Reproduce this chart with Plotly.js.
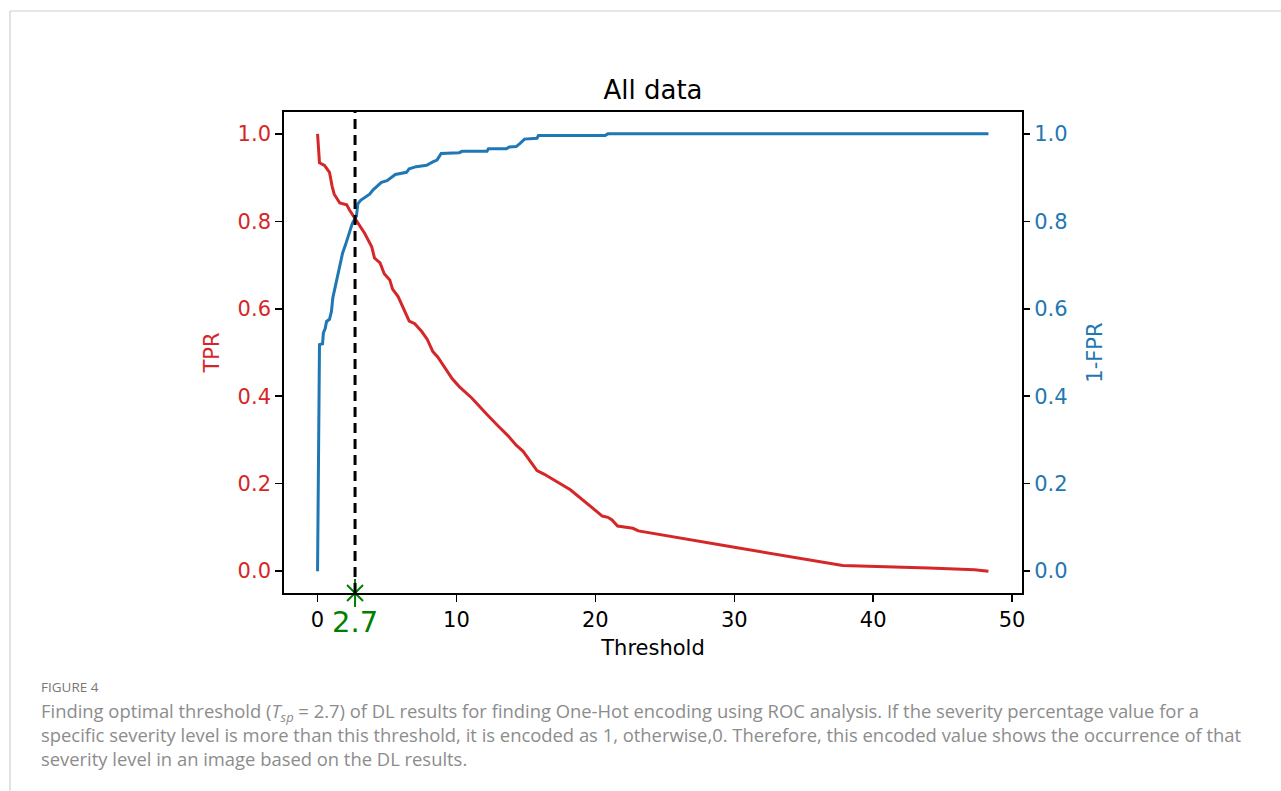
<!DOCTYPE html>
<html>
<head>
<meta charset="utf-8">
<script src="https://cdn.plot.ly/plotly-3.0.1.min.js"></script>
<style>
html,body{margin:0;padding:0;background:#fff;}
#chart{width:1281px;height:791px;}
</style>
</head>
<body>
<div id="chart"></div>
<script>
// ---- data ----
var thresholdTPR = [0, 0.14, 0.5, 0.86, 1.05, 1.2, 1.6, 2.1, 2.3, 2.7, 3.0, 3.4, 3.9, 4.1, 4.5, 4.8, 5.2, 5.4, 5.8, 6.2, 6.6, 7.0, 7.5, 7.9, 8.3, 8.65, 9.2, 9.7, 10.2, 11.1, 12.2, 12.4, 13.0, 13.7, 14.3, 14.8, 15.3, 15.8, 16.3, 18.2, 20.5, 20.9, 21.2, 21.6, 22.7, 23.1, 29.9, 37.8, 44.0, 47.3, 48.3];
var tpr = [1.0, 0.934, 0.928, 0.912, 0.88, 0.862, 0.842, 0.838, 0.826, 0.806, 0.79, 0.772, 0.742, 0.716, 0.705, 0.68, 0.666, 0.645, 0.628, 0.6, 0.572, 0.566, 0.548, 0.53, 0.502, 0.49, 0.465, 0.44, 0.422, 0.396, 0.358, 0.352, 0.332, 0.31, 0.288, 0.274, 0.252, 0.23, 0.222, 0.186, 0.126, 0.123, 0.117, 0.103, 0.098, 0.092, 0.055, 0.013, 0.007, 0.003, 0.0];

var thresholdSpec = [0, 0.14, 0.36, 0.42, 0.55, 0.65, 0.86, 1.0, 1.1, 1.2, 1.36, 1.6, 1.8, 2.0, 2.2, 2.5, 2.8, 2.9, 3.1, 3.4, 3.75, 4.0, 4.25, 4.6, 5.0, 5.3, 5.6, 6.4, 6.6, 7.1, 7.85, 8.3, 8.6, 8.9, 10.2, 10.4, 12.2, 12.3, 13.6, 13.8, 14.3, 14.6, 14.9, 15.8, 15.9, 20.7, 20.9, 48.3];
var specificity = [0.0, 0.518, 0.52, 0.545, 0.555, 0.571, 0.576, 0.594, 0.625, 0.64, 0.667, 0.697, 0.727, 0.745, 0.765, 0.795, 0.812, 0.84, 0.848, 0.855, 0.862, 0.872, 0.88, 0.889, 0.893, 0.9, 0.907, 0.912, 0.92, 0.925, 0.928, 0.936, 0.94, 0.955, 0.957, 0.96, 0.96, 0.966, 0.966, 0.97, 0.971, 0.979, 0.988, 0.99, 0.996, 0.996, 1.0, 1.0];

var optimalThreshold = 2.7;
var xTicks = [0, 10, 20, 30, 40, 50];
var yTicks = [0, 0.2, 0.4, 0.6, 0.8, 1.0];
var yTickText = ['0.0', '0.2', '0.4', '0.6', '0.8', '1.0'];

var captionHead = 'FIGURE 4';
var captionLines = [
  'Finding optimal threshold (<i>T<sub>sp</sub></i> = 2.7) of DL results for finding One-Hot encoding using ROC analysis. If the severity percentage value for a',
  'specific severity level is more than this threshold, it is encoded as 1, otherwise,0. Therefore, this encoded value shows the occurrence of that',
  'severity level in an image based on the DL results.'
];

var RED = '#d62728', BLUE = '#1f77b4', GREEN = '#008000';
var FONT = 'DejaVu Sans, sans-serif';
var CAP = 'Open Sans, sans-serif';
var W = 1281, H = 791;
function px(x){return x / W;}
function py(y){return 1 - y / H;}

var traces = [
  {x: thresholdTPR, y: tpr, type: 'scatter', mode: 'lines', name: 'TPR',
   line: {color: RED, width: 3}, xaxis: 'x', yaxis: 'y'},
  {x: thresholdSpec, y: specificity, type: 'scatter', mode: 'lines', name: '1-FPR',
   line: {color: BLUE, width: 3}, xaxis: 'x', yaxis: 'y2'},
  {x: [optimalThreshold], y: [-0.05], type: 'scatter', mode: 'markers', name: 'opt',
   marker: {symbol: 'x-thin-open', size: 16, color: GREEN, line: {color: GREEN, width: 2}},
   cliponaxis: false, xaxis: 'x', yaxis: 'y'},
  {x: [optimalThreshold], y: [-0.05], type: 'scatter', mode: 'markers', name: 'opt2',
   marker: {symbol: 'line-ns-open', size: 20, color: GREEN, line: {color: GREEN, width: 2}},
   cliponaxis: false, xaxis: 'x', yaxis: 'y'}
];

var layout = {
  width: W, height: H,
  margin: {l: 0, r: 0, t: 0, b: 0},
  paper_bgcolor: '#fff', plot_bgcolor: '#fff',
  showlegend: false,
  font: {family: FONT, size: 21, color: '#000'},
  title: {text: 'All data', font: {family: FONT, size: 26, color: '#000'},
          x: px(653), xanchor: 'center', y: py(90), yanchor: 'middle'},
  xaxis: {
    domain: [px(284), px(1022)], range: [-2.415, 50.715],
    tickvals: xTicks, ticks: 'outside', ticklen: 7, tickwidth: 1.5, tickcolor: '#000',
    showgrid: false, zeroline: false, showline: true, linecolor: '#000', linewidth: 1.8, mirror: true,
    tickfont: {family: FONT, size: 21, color: '#000'},
    title: {text: 'Threshold', font: {family: FONT, size: 21, color: '#000'}, standoff: 9},
    anchor: 'y'
  },
  yaxis: {
    domain: [py(593), py(112)], range: [-0.05, 1.05],
    tickvals: yTicks, ticktext: yTickText, ticks: 'outside', ticklen: 7, tickwidth: 1.5, tickcolor: '#000',
    showgrid: false, zeroline: false, showline: true, linecolor: '#000', linewidth: 1.8, mirror: true,
    tickfont: {family: FONT, size: 21, color: RED},
    title: {text: 'TPR', font: {family: FONT, size: 21, color: RED}, standoff: 12},
    anchor: 'x'
  },
  yaxis2: {
    domain: [py(593), py(112)], range: [-0.05, 1.05], overlaying: 'y', side: 'right',
    tickvals: yTicks, ticktext: yTickText, ticks: 'outside', ticklen: 7, tickwidth: 1.5, tickcolor: '#000',
    showgrid: false, zeroline: false, showline: false,
    tickfont: {family: FONT, size: 21, color: BLUE},
    title: {text: '1-FPR', font: {family: FONT, size: 21, color: BLUE}, standoff: 20},
    anchor: 'x'
  },
  shapes: [
    {type: 'line', xref: 'x', yref: 'y domain', x0: optimalThreshold, x1: optimalThreshold, y0: 0, y1: 1,
     line: {color: '#000', width: 3, dash: '10px,6px'}},
    {type: 'line', xref: 'paper', yref: 'paper', x0: px(10), x1: 1, y0: py(11), y1: py(11),
     line: {color: '#d0d0d0', width: 1.2}},
    {type: 'line', xref: 'paper', yref: 'paper', x0: px(10), x1: px(10), y0: py(11), y1: 0,
     line: {color: '#d0d0d0', width: 1.2}}
  ],
  annotations: [
    {text: String(optimalThreshold), xref: 'x', yref: 'paper', x: optimalThreshold, y: py(622),
     xanchor: 'center', yanchor: 'middle', showarrow: false,
     font: {family: FONT, size: 29, color: GREEN}},
    {text: captionHead, xref: 'paper', yref: 'paper', x: px(39), y: py(687), xanchor: 'left', yanchor: 'middle',
     showarrow: false, font: {family: CAP, size: 13.5, color: '#777'}},
    {text: captionLines.join('<br>'), xref: 'paper', yref: 'paper', x: px(39), y: py(734.5),
     xanchor: 'left', yanchor: 'middle', align: 'left', showarrow: false,
     font: {family: CAP, size: 18.4, color: '#8c8c8c'}}
  ]
};

Plotly.newPlot('chart', traces, layout, {staticPlot: true, displayModeBar: false});
</script>
</body>
</html>
